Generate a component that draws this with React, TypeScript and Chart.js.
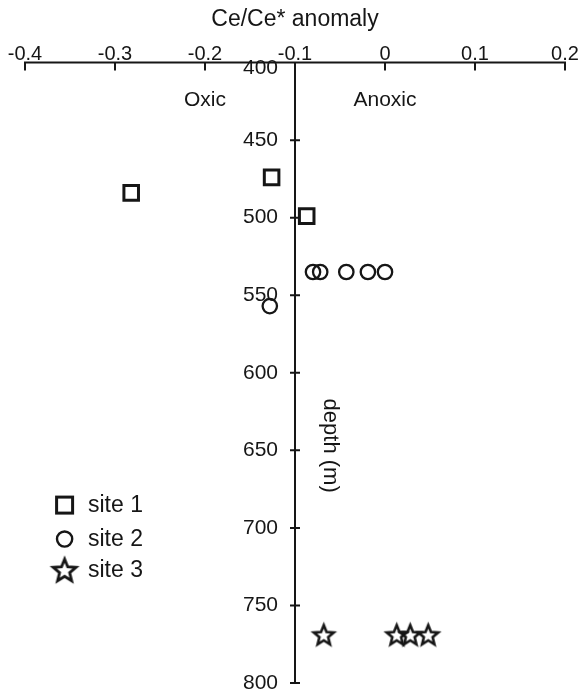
import React, { useEffect, useRef } from 'react';
import { Chart, registerables } from 'chart.js';

Chart.register(...registerables);

// ---- data ----
const seriesNames = ['site 1', 'site 2', 'site 3'];
const site1Ce = [-0.282, -0.126, -0.087];
const site1Depth = [484, 474, 499];
const site2Ce = [-0.08, -0.072, -0.043, -0.019, 0.0, -0.128];
const site2Depth = [535, 535, 535, 535, 535, 557];
const site3Ce = [-0.068, 0.013, 0.028, 0.048];
const site3Depth = [769, 769, 769, 769];
const xTickValues = [-0.4, -0.3, -0.2, -0.1, 0, 0.1, 0.2];
const xTickLabels = ['-0.4', '-0.3', '-0.2', '-0.1', '0', '0.1', '0.2'];
const depthTicks = [400, 450, 500, 550, 600, 650, 700, 750, 800];
const depthTickLabels = ['400', '450', '500', '550', '600', '650', '700', '750', '800'];

const FONT = '"Liberation Sans", Arial, Helvetica, sans-serif';
const INK = '#161616';

function makeStar(R: number, lw: number): HTMLCanvasElement {
  const size = Math.ceil(R * 2 + lw * 2 + 4);
  const c = document.createElement('canvas');
  c.width = size;
  c.height = size;
  const g = c.getContext('2d')!;
  const r = R * 0.44, cx = size / 2, cy = size / 2 + R * 0.08;
  g.beginPath();
  for (let i = 0; i < 10; i++) {
    const a = -Math.PI / 2 + (i * Math.PI) / 5;
    const rad = i % 2 === 0 ? R : r;
    const px = cx + rad * Math.cos(a), py = cy + rad * Math.sin(a);
    if (i === 0) g.moveTo(px, py); else g.lineTo(px, py);
  }
  g.closePath();
  g.lineWidth = lw;
  g.lineJoin = 'miter';
  g.strokeStyle = INK;
  g.stroke();
  return c;
}

export default function App() {
  const ref = useRef<HTMLCanvasElement | null>(null);

  useEffect(() => {
    if (!ref.current) return;
    const star = makeStar(10.5, 2.6);
    const legendStar = makeStar(12, 2.8);

    const decor = {
      id: 'decor',
      beforeDatasetsDraw(chart: any) {
        const { ctx, scales } = chart;
        const xs = scales.x, ys = scales.y;
        ctx.save();
        ctx.strokeStyle = INK;
        ctx.lineWidth = 2;
        const top = ys.getPixelForValue(400);
        const bottom = ys.getPixelForValue(800);
        const left = xs.getPixelForValue(-0.4);
        const right = xs.getPixelForValue(0.2);
        const ax = xs.getPixelForValue(-0.1);
        ctx.beginPath();
        ctx.moveTo(left - 1, top);
        ctx.lineTo(right + 1, top);
        xTickValues.forEach((v) => {
          const px = xs.getPixelForValue(v);
          ctx.moveTo(px, top);
          ctx.lineTo(px, top + 8);
        });
        ctx.moveTo(ax, top);
        ctx.lineTo(ax, bottom + 1);
        depthTicks.slice(1).forEach((d) => {
          const py = ys.getPixelForValue(d);
          ctx.moveTo(ax - 5, py);
          ctx.lineTo(ax + 5, py);
        });
        ctx.stroke();

        ctx.fillStyle = INK;
        ctx.textBaseline = 'middle';

        // depth tick labels
        ctx.font = `21px ${FONT}`;
        ctx.textAlign = 'right';
        depthTicks.forEach((d, i) => {
          const py = ys.getPixelForValue(d) + (i === 0 ? 6 : 0);
          ctx.fillText(depthTickLabels[i], ax - 17, py);
        });

        // zone labels
        ctx.font = `21px ${FONT}`;
        ctx.textAlign = 'center';
        ctx.fillText('Oxic', xs.getPixelForValue(-0.2), ys.getPixelForValue(424));
        ctx.fillText('Anoxic', xs.getPixelForValue(0.0), ys.getPixelForValue(424));

        // depth label rotated
        ctx.save();
        ctx.font = `22px ${FONT}`;
        ctx.translate(xs.getPixelForValue(-0.061), ys.getPixelForValue(647));
        ctx.rotate(Math.PI / 2);
        ctx.fillText('depth (m)', 0, 0);
        ctx.restore();

        // legend
        const lx = xs.getPixelForValue(-0.356);
        const tx = xs.getPixelForValue(-0.33);
        const rows = [685.3, 707.2, 727.2].map((d) => ys.getPixelForValue(d));
        ctx.lineWidth = 3;
        ctx.strokeRect(lx - 8, rows[0] - 8, 16, 16);
        ctx.lineWidth = 2.4;
        ctx.beginPath();
        ctx.arc(lx, rows[1], 7.6, 0, Math.PI * 2);
        ctx.stroke();
        ctx.drawImage(legendStar, lx - legendStar.width / 2, rows[2] - legendStar.height / 2);
        ctx.textAlign = 'left';
        ctx.font = `23px ${FONT}`;
        seriesNames.forEach((n, i) => ctx.fillText(n, tx, rows[i] + 1));
        ctx.restore();
      },
    };

    const chart = new Chart(ref.current, {
      type: 'scatter',
      data: {
        datasets: [
          {
            label: seriesNames[0],
            data: site1Ce.map((x, i) => ({ x, y: site1Depth[i] })),
            pointStyle: 'rect',
            pointRadius: 10.3,
            borderWidth: 3,
            borderColor: INK,
            backgroundColor: 'rgba(0,0,0,0)',
          },
          {
            label: seriesNames[1],
            data: site2Ce.map((x, i) => ({ x, y: site2Depth[i] })),
            pointStyle: 'circle',
            pointRadius: 7.2,
            borderWidth: 2.3,
            borderColor: INK,
            backgroundColor: 'rgba(0,0,0,0)',
          },
          {
            label: seriesNames[2],
            data: site3Ce.map((x, i) => ({ x, y: site3Depth[i] })),
            pointStyle: star as any,
            pointRadius: 11,
            borderColor: INK,
            backgroundColor: 'rgba(0,0,0,0)',
          },
        ],
      },
      options: {
        responsive: false,
        animation: false,
        clip: false as any,
        layout: { autoPadding: false, padding: { left: 25, right: 15, top: 0, bottom: 10 } },
        plugins: {
          legend: { display: false },
          tooltip: { enabled: false },
        },
        scales: {
          x: {
            type: 'linear',
            position: 'top',
            min: -0.4,
            max: 0.2,
            afterBuildTicks: (s: any) => {
              s.ticks = xTickValues.map((v) => ({ value: v }));
            },
            ticks: {
              color: INK,
              font: { family: FONT, size: 20, lineHeight: 1 },
              padding: -2,
              maxRotation: 0,
              callback: (v: any) => {
                const i = xTickValues.findIndex((t) => Math.abs(t - Number(v)) < 1e-9);
                return i >= 0 ? xTickLabels[i] : '';
              },
            },
            grid: { display: false, drawTicks: false },
            border: { display: false },
            title: {
              display: true,
              text: 'Ce/Ce* anomaly',
              color: INK,
              font: { family: FONT, size: 23 },
              padding: { top: 6, bottom: 13 },
            },
          },
          y: {
            type: 'linear',
            position: { x: -0.1 } as any,
            reverse: true,
            min: 400,
            max: 800,
            afterBuildTicks: (s: any) => {
              s.ticks = depthTicks.map((v) => ({ value: v }));
            },
            ticks: { display: false },
            grid: { display: false, drawTicks: false },
            border: { display: false },
          },
        },
      },
      plugins: [decor],
    });
    return () => chart.destroy();
  }, []);

  return (
    <div style={{ position: 'fixed', left: 0, top: 0, width: 580, height: 693, background: '#fff' }}>
      <canvas ref={ref} width={580} height={693} />
    </div>
  );
}
